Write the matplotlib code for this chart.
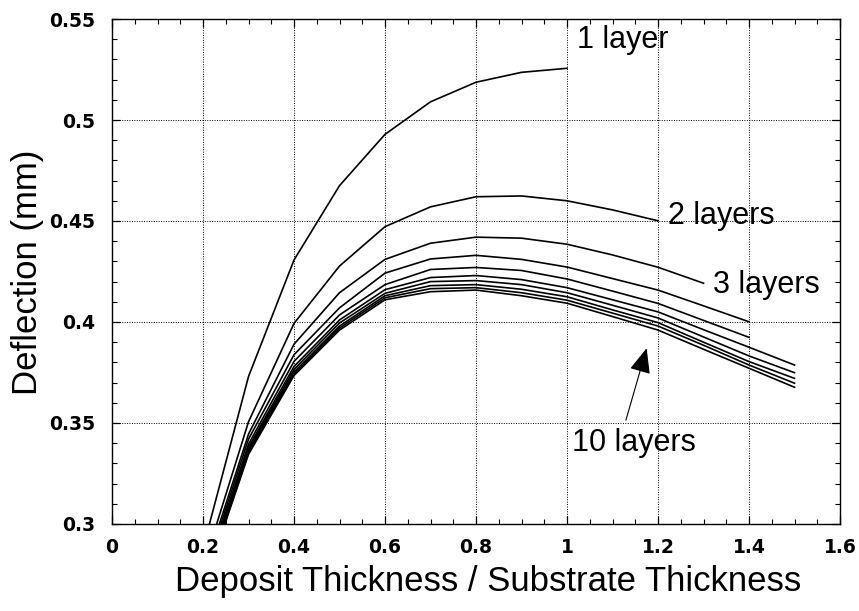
# -----------------------------------
# Deflection vs thickness ratio, 1-10 layers
# -----------------------------------

import matplotlib
matplotlib.use("Agg")
import matplotlib.pyplot as plt

# -----------------------------------
# Data
# -----------------------------------

ratio = [0.2, 0.3, 0.4, 0.5, 0.6, 0.7, 0.8, 0.9, 1.0, 1.1, 1.2, 1.3, 1.4, 1.5]

layer_1 = [0.288, 0.373, 0.4307, 0.4675, 0.4929, 0.509, 0.5187, 0.5236, 0.5256]
layer_2 = [0.2783, 0.3506, 0.3993, 0.4277, 0.4472, 0.457, 0.462, 0.4624, 0.460, 0.4555, 0.4501]
layer_3 = [0.275, 0.3445, 0.389, 0.4145, 0.431, 0.439, 0.442, 0.4415, 0.4385, 0.4332, 0.4271, 0.4192]
layer_4 = [0.273, 0.342, 0.3838, 0.407, 0.4242, 0.4312, 0.433, 0.431, 0.4272, 0.4215, 0.4158, 0.408, 0.4001]
layer_5 = [0.2715, 0.3395, 0.3805, 0.4035, 0.4185, 0.426, 0.427, 0.4255, 0.4213, 0.4153, 0.4092, 0.4008, 0.3924]
layer_6 = [0.2705, 0.338, 0.378, 0.401, 0.416, 0.422, 0.423, 0.421, 0.417, 0.411, 0.405, 0.3962, 0.3875, 0.3787]
layer_7 = [0.270, 0.337, 0.3765, 0.3995, 0.4142, 0.420, 0.4205, 0.4185, 0.4145, 0.4083, 0.402, 0.3926, 0.3832, 0.3749]
layer_8 = [0.2695, 0.336, 0.3752, 0.398, 0.413, 0.418, 0.4185, 0.4162, 0.4125, 0.406, 0.3997, 0.390, 0.3804, 0.3721]
layer_9 = [0.269, 0.3352, 0.3743, 0.397, 0.412, 0.4165, 0.417, 0.4145, 0.4108, 0.4044, 0.398, 0.3885, 0.3787, 0.3697]
layer_10 = [0.268, 0.3345, 0.3735, 0.396, 0.411, 0.415, 0.4158, 0.413, 0.4093, 0.4027, 0.396, 0.3865, 0.3771, 0.3677]

curves = [layer_1, layer_2, layer_3, layer_4, layer_5,
          layer_6, layer_7, layer_8, layer_9, layer_10]

x_ticks = [0, 0.2, 0.4, 0.6, 0.8, 1.0, 1.2, 1.4, 1.6]
x_tick_labels = ["0", "0.2", "0.4", "0.6", "0.8", "1", "1.2", "1.4", "1.6"]
y_ticks = [0.3, 0.35, 0.4, 0.45, 0.5, 0.55]
y_tick_labels = ["0.3", "0.35", "0.4", "0.45", "0.5", "0.55"]

# -----------------------------------
# Plot
# -----------------------------------

fig = plt.figure(figsize=(8.59, 6.11), dpi=100)
ax = fig.add_axes([0.1304, 0.1424, 0.9779 - 0.1304, 0.9689 - 0.1424])

for ys in curves:
    ax.plot(ratio[:len(ys)], ys, color="black", linewidth=1.2)

ax.set_xlim(0, 1.6)
ax.set_ylim(0.3, 0.55)

ax.set_xticks(x_ticks)
ax.set_xticklabels(x_tick_labels)
ax.set_yticks(y_ticks)
ax.set_yticklabels(y_tick_labels)
ax.set_xticks([i * 0.05 for i in range(33)], minor=True)
ax.set_yticks([0.3 + i * 0.01 for i in range(26)], minor=True)

ax.tick_params(which="both", direction="in", top=True, right=True, color="black")
ax.tick_params(which="major", length=6, width=0.9)
ax.tick_params(which="minor", length=3.5, width=0.8)
ax.tick_params(axis="x", pad=10)
ax.tick_params(axis="y", pad=12)

for lab in ax.get_xticklabels() + ax.get_yticklabels():
    lab.set_fontfamily("DejaVu Sans")
    lab.set_fontweight("bold")
    lab.set_fontsize(13.5)

ax.grid(True, which="major", color="black", linestyle=(0, (1, 1.5)), linewidth=0.7)

for s in ax.spines.values():
    s.set_linewidth(1.0)

# -----------------------------------
# Labels and annotations
# -----------------------------------

txt = dict(fontfamily="Liberation Sans", fontsize=22, color="black")
ax.text(1.022, 0.5396, "1 layer", ha="left", va="center", **txt)
ax.text(1.222, 0.4525, "2 layers", ha="left", va="center", **txt)
ax.text(1.32, 0.4185, "3 layers", ha="left", va="center", **txt)
ax.annotate("10 layers", xy=(1.175, 0.387), xytext=(1.010, 0.340),
            ha="left", va="center", **txt,
            arrowprops=dict(arrowstyle="-|>,head_length=1.3,head_width=0.55",
                            mutation_scale=12, color="black", lw=0.8,
                            shrinkA=4, shrinkB=0,
                            relpos=(0.42, 1.0)))

fig.text(28 / 859, 1 - 272 / 611, "Deflection (mm)", rotation=90,
         ha="center", va="center", fontfamily="Liberation Sans", fontsize=25)
fig.text(488 / 859, 1 - 581 / 611, "Deposit Thickness / Substrate Thickness",
         ha="center", va="center", fontfamily="Liberation Sans", fontsize=25)

fig.savefig("out.png", dpi=100, facecolor="white")
